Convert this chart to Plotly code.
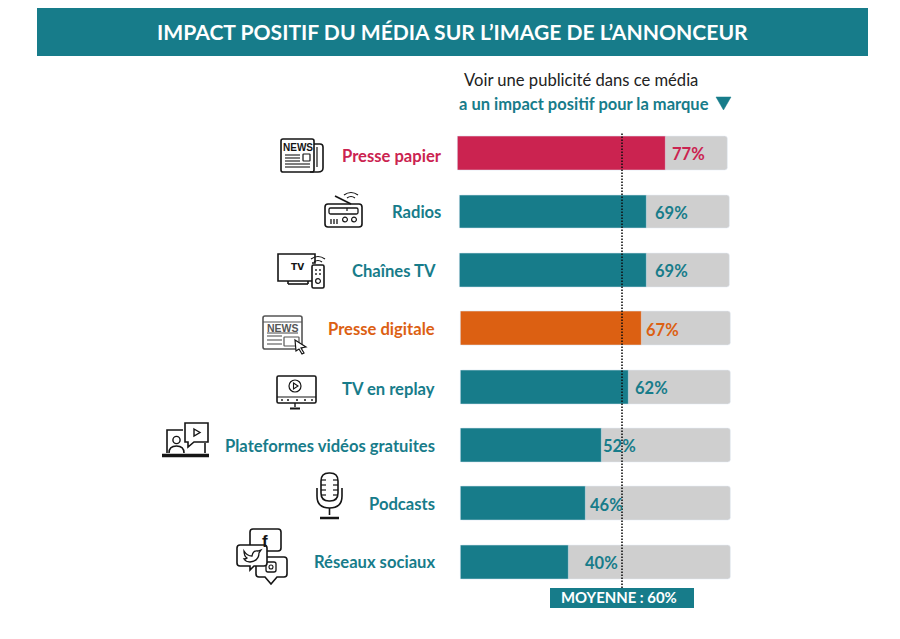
import re
import plotly.graph_objects as go

W, H = 900, 639

# data
medias = ["Presse papier", "Radios", "Chaînes TV", "Presse digitale", "TV en replay",
          "Plateformes vidéos gratuites", "Podcasts", "Réseaux sociaux"]
values = [77, 69, 69, 67, 62, 52, 46, 40]
moyenne = 60
total = [100] * 8

# style
TEAL = "#177C8A"
RED = "#CB2350"
ORANGE = "#DC6012"
GREY = "#CFCFCF"
INK = "#151515"
colors = [RED, TEAL, TEAL, ORANGE, TEAL, TEAL, TEAL, TEAL]
row_shift = [-0.74, 0, 0, 0.37, 0.37, 0.37, 0.37, 0.37]   # rows aren't quite aligned in the original
label_right = [444, 443, 437.5, 437, 437, 437, 437, 437]
label_dy = [2, -1, 0, -1, 1, 0, -1, -1]
value_gap = [6, 9, 9, 4, 7, 2, 5, 16]
FONT = "Lato"

fig = go.Figure()
fig.add_bar(y=medias, x=total, base=row_shift, orientation="h", width=0.58,
            marker=dict(color=GREY, cornerradius=3), hoverinfo="skip")
fig.add_bar(y=medias, x=values, base=row_shift, orientation="h", width=0.58,
            marker=dict(color=colors))

shapes = []
annots = []


def fx(x):
    return x / W


def fy(y):
    return 1 - y / H


def path(d, color=INK, fill=None, lw=1.6):
    # d is an svg path in pixels, converted to paper coords
    out = []
    n = 0
    for tok in re.findall(r"[A-Za-z]|-?[\d.]+", d):
        if tok.isalpha():
            out.append(tok)
        else:
            out.append(f"{fx(float(tok)):.5f}" if n % 2 == 0 else f"{fy(float(tok)):.5f}")
            n += 1
    shapes.append(dict(type="path", xref="paper", yref="paper", path=" ".join(out),
                       line=dict(color=color, width=lw), fillcolor=fill or "rgba(0,0,0,0)"))


def rbox(x0, y0, x1, y1, r=2, color=INK, fill=None, lw=1.6):
    path(f"M {x0+r} {y0} L {x1-r} {y0} Q {x1} {y0} {x1} {y0+r} L {x1} {y1-r} Q {x1} {y1} {x1-r} {y1} "
         f"L {x0+r} {y1} Q {x0} {y1} {x0} {y1-r} L {x0} {y0+r} Q {x0} {y0} {x0+r} {y0} Z",
         color, fill, lw)


def seg(x0, y0, x1, y1, color=INK, lw=1.6):
    path(f"M {x0} {y0} L {x1} {y1}", color, None, lw)


def circ(cx, cy, r, color=INK, fill=None, lw=1.6):
    shapes.append(dict(type="circle", xref="paper", yref="paper",
                       x0=fx(cx - r), x1=fx(cx + r), y0=fy(cy + r), y1=fy(cy - r),
                       line=dict(color=color, width=lw), fillcolor=fill or "rgba(0,0,0,0)"))


def text(x, y, s, size, color, bold=False, anchor="center", family=FONT):
    annots.append(dict(xref="paper", yref="paper", x=fx(x), y=fy(y), text=f"<b>{s}</b>" if bold else s,
                       showarrow=False, xanchor=anchor, yanchor="middle",
                       font=dict(family=family, size=size, color=color)))


def wifi(cx, cy, color=INK):
    path(f"M {cx-4} {cy-1} Q {cx} {cy-4} {cx+4} {cy-1}", color, None, 1.2)
    path(f"M {cx-7} {cy-4} Q {cx} {cy-9} {cx+7} {cy-4}", color, None, 1.2)


# header
shapes.append(dict(type="rect", xref="paper", yref="paper", layer="below", x0=fx(37), x1=fx(868),
                   y0=fy(56), y1=fy(8), fillcolor=TEAL, line_width=0))
text(452.5, 31.5, "IMPACT POSITIF DU MÉDIA SUR L’IMAGE DE L’ANNONCEUR", 21.1, "white", bold=True)
text(462, 80.5, "Voir une publicité dans ce média", 16.6, "#222222", anchor="left")
text(457, 104, "a un impact positif pour la marque", 16.5, TEAL, bold=True, anchor="left")
path("M 716 97 L 731 97 L 723.5 110 Z", TEAL, TEAL, 0.5)

# row labels and values
for i, m in enumerate(medias):
    c = colors[i]
    annots.append(dict(xref="paper", yref="y", x=fx(label_right[i]), y=m, text=f"<b>{m}</b>",
                       showarrow=False, xanchor="right", yanchor="middle", yshift=-1 - label_dy[i],
                       font=dict(family=FONT, size=16.6, color=c)))
    annots.append(dict(xref="x", yref="y", x=values[i] + row_shift[i], y=m, text=f"<b>{values[i]}%</b>",
                       showarrow=False, xanchor="left", yanchor="middle", xshift=value_gap[i] - 2, yshift=-1,
                       font=dict(family=FONT, size=16.5, color=c)))

# moyenne
shapes.append(dict(type="line", xref="x", yref="paper", x0=moyenne, x1=moyenne, y0=fy(588), y1=fy(133),
                   line=dict(color="#111111", width=1.6, dash="1.5px,1.5px")))
shapes.append(dict(type="rect", xref="paper", yref="paper", x0=fx(550), x1=fx(694), y0=fy(608), y1=fy(588),
                   fillcolor=TEAL, line_width=0))
text(619, 597, f"MOYENNE : {moyenne}%", 14.9, "white", bold=True)

# icons ------------------------------------------------------------
# presse papier
rbox(281, 139, 314, 172)
path("M 314 144 L 320 144 Q 323 144 323 147 L 323 168 Q 323 172 318 172 L 310 172")
seg(317, 147, 317, 167, lw=1.2)
text(297.5, 147.5, "NEWS", 10, INK, bold=True, family="Liberation Sans")
rbox(303, 154, 310, 161, r=0.5, lw=1.2)
for yy in [155, 158, 161]:
    seg(285, yy, 300, yy, lw=1.1)
for yy in [164, 167]:
    seg(285, yy, 310, yy, lw=1.1)

# radios
rbox(325, 204, 362, 227, r=3)
seg(335, 196, 351, 204)
wifi(351, 199)
rbox(329, 208, 358, 214, r=1.5, lw=1.3)
seg(347, 208, 347, 211, lw=1.2)
for xx in [331, 334, 337]:
    seg(xx, 219, xx, 224, lw=1.3)
circ(345, 219.5, 2.4, lw=1.2)
circ(354, 219.5, 2.4, lw=1.2)

# chaines tv
path("M 312 263 L 315 263 L 315 254 L 278 254 L 278 281 L 312 281")
seg(288, 284, 308, 284)
seg(288, 281, 288, 284)
seg(308, 281, 308, 284)
text(297, 267, "TV", 9, INK, bold=True, family="DejaVu Sans")
rbox(312, 265, 324, 288, r=1.5, fill="white")
for xx in [316, 320]:
    for yy in [270, 274]:
        circ(xx, yy, 0.6, lw=0.8, fill=INK)
circ(318, 281, 2.4, lw=1.2)
wifi(318, 263)

# presse digitale
GREY_ICON = "#555555"
rbox(263, 316, 302, 349, r=2, color=GREY_ICON)
seg(263, 322, 302, 322, GREY_ICON, 1.2)
text(283, 327.5, "NEWS", 10.5, GREY_ICON, bold=True, family="Liberation Sans")
for yy in [336, 340, 344]:
    seg(267, yy, 282, yy, GREY_ICON, 1.1)
seg(267, 333, 298, 333, GREY_ICON, 1.1)
rbox(284, 337, 299, 346, r=0.5, color=GREY_ICON, lw=1.2)
path("M 295 340 L 306 347 L 301 348 L 304 353 L 302 354 L 299 349 L 296 351 Z", INK, "white", 1.2)

# tv en replay
rbox(277, 376, 316, 403, r=1.5)
seg(277, 397, 316, 397, lw=1.2)
for xx in [281, 287, 296, 304, 311]:
    seg(xx, 400, xx + 2, 400, lw=1.4)
circ(295, 386, 6, lw=1.2)
path("M 293.5 383 L 298 386 L 293.5 389 Z", INK, None, 1.1)
seg(295, 403, 295, 407, lw=1.4)
seg(290, 408.5, 300, 408.5, lw=2)

# plateformes
path("M 183 430 L 167 430 L 167 453")
seg(205, 443, 205, 453)
path("M 162 455.5 L 209 455.5", INK, None, 3.5)
circ(176.5, 440, 3.6, lw=1.4)
path("M 169 453 Q 169 446 176.5 446 Q 184 446 184 453")
path("M 185 423 L 208 423 L 208 442 L 194 442 L 188 447 L 188 442 L 185 442 Z", INK, "white", 1.6)
path("M 194 429 L 200 432.5 L 194 436 Z", INK, None, 1.4)

# podcasts
rbox(321, 473, 338, 501, r=8)
for yy in [480, 485, 490, 495]:
    seg(321, yy, 326, yy, lw=1.2)
    seg(333, yy, 338, yy, lw=1.2)
path("M 317 488 L 317 496 Q 317 508 329.5 508 Q 342 508 342 496 L 342 488")
seg(329.5, 508, 329.5, 515)
path("M 320 518 L 339 518", INK, None, 2.5)

# reseaux sociaux
rbox(250, 529, 281, 551, r=3, fill="white")
text(265, 541, "f", 17, INK, bold=True, family="Liberation Sans")
path("M 260 557 L 284 557 Q 287 557 287 560 L 287 574 Q 287 577 284 577 L 277 577 L 271 584 "
     "L 265 577 L 259 577 Q 256 577 256 574 L 256 560 Z", INK, "white", 1.6)
rbox(266, 562, 276, 572, r=2, lw=1.3)
circ(271, 567, 2, lw=1.1)
path("M 240 545 L 264 545 Q 267 545 267 548 L 267 563 Q 267 566 264 566 L 254 566 L 250 570 "
     "L 250 566 L 240 566 Q 237 566 237 563 L 237 548 Q 237 545 240 545 Z", INK, "white", 1.6)
path("M 244 551 Q 247 556 252 556 Q 253 550 258 551 L 261 550 L 259 553 Q 259 561 250 562 "
     "Q 246 562 244 559 Q 246 559 247 558 Q 244 556 244 551 Z", INK, None, 1.3)

fig.update_layout(
    width=W, height=H, margin=dict(l=0, r=0, t=0, b=0),
    paper_bgcolor="white", plot_bgcolor="white",
    barmode="overlay", showlegend=False, bargap=0,
    # axis runs a little past 0-100 so the shifted rows aren't clipped
    xaxis=dict(domain=[(460 - 5.4) / W, (730 + 5.4) / W], range=[-2, 102], visible=False, fixedrange=True),
    yaxis=dict(domain=[fy(591.2), fy(124.3)], range=[7.5, -0.5], visible=False, fixedrange=True,
               type="category", categoryorder="array", categoryarray=medias),
    shapes=shapes, annotations=annots,
)

fig.write_html("out.html", config=dict(displayModeBar=False),
               post_script="document.body.style.margin='0';")
